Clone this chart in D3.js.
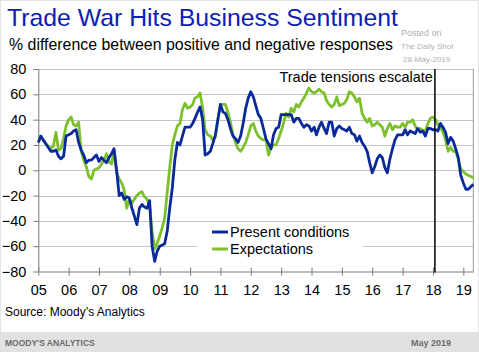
<!DOCTYPE html>
<html>
<head>
<meta charset="utf-8">
<script src="https://cdn.jsdelivr.net/npm/d3@7"></script>
<style>
  body { margin: 0; background: #fff; }
  svg { display: block; font-family: "Liberation Sans", Arial, sans-serif; }
  .grid line { stroke: #c4c4c4; stroke-width: 1; }
  .axis path, .axis line { stroke: #7a7a7a; }
  .axis text { fill: #000; font-size: 14.5px; }
</style>
</head>
<body>
<div id="chart"></div>
<script>
// monthly, Jan 2005 .. May 2019
var startYear = 2005;
var presentConditions = [
    22, 27, 24, 21, 18, 15, 15, 16, 11, 9, 11, 27,
    28, 29, 31, 32, 22, 16, 12, 6, 8, 8, 10, 12,
    7, 10, 8, 6, 10, 13, 17, 0, -20, -18, -23, -21,
    -22, -30, -36, -43, -30, -27, -29, -30, -24, -60, -72, -64,
    -60, -59, -58, -48, -30, -14, 8, 22, 20, 27, 34, 34,
    34, 37, 41, 46, 50, 40, 12, 13, 15, 21, 28, 40,
    52, 46, 45, 40, 33, 27, 25, 22, 27, 37, 49, 57,
    62, 58, 51, 44, 41, 33, 25, 21, 17, 28, 33, 34,
    44, 44, 44, 44, 44, 38, 41, 41, 37, 34, 36, 35,
    31, 34, 28, 34, 38, 33, 29, 38, 38, 27, 33, 35,
    33, 32, 31, 34, 29, 28, 23, 27, 22, 19, 15, 6,
    -2, 3, 9, 12, 10, 2, -2, 9, 17, 24, 28, 28,
    28, 32, 28, 31, 30, 29, 33, 30, 31, 27, 33, 33,
    32, 32, 31, 37, 34, 30, 21, 26, 23, 17, 10, -4,
    -10, -15, -15, -13, -11
];
var expectations = [
    27, 26, 24, 21, 19, 17, 19, 30, 16, 17, 25, 35,
    40, 42, 36, 35, 38, 15, 8, 3, -5, -7, 0, 1,
    2, 5, 8, 13, 7, 5, 15, -2, -7, -10, -16, -30,
    -23, -26, -23, -20, -18, -17, -21, -23, -28, -48, -62, -58,
    -52, -45, -38, -17, 2, 20, 28, 35, 37, 48, 53, 49,
    50, 52, 57, 58, 61, 49, 32, 28, 27, 24, 26, 40,
    52, 52, 52, 46, 38, 28, 22, 17, 15, 18, 22, 28,
    35, 37, 31, 27, 25, 24, 24, 12, 18, 20, 20, 25,
    31, 38, 45, 42, 49, 46, 52, 50, 54, 57, 61, 65,
    62, 61, 62, 64, 62, 61, 55, 52, 50, 52, 58, 51,
    52, 53, 56, 62, 61, 58, 54, 57, 45, 41, 38, 41,
    35, 36, 38, 36, 34, 27, 33, 37, 32, 35, 34, 34,
    37, 34, 38, 38, 40, 35, 32, 33, 31, 31, 37, 41,
    42, 40, 36, 34, 30, 24, 15, 18, 15, 15, 9, 1,
    -1, -3, -4, -5, -6
];
var yTicks = [-80, -60, -40, -20, 0, 20, 40, 60, 80];
var seriesNames = ['Present conditions', 'Expectations'];
var seriesColors = ['#0a2a9c', '#7cc12c'];
var eventDate = new Date(2018, 0, 24);
var eventLabel = 'Trade tensions escalate';

var width = 479, height = 352;
var plot = { left: 38.3, right: 473.3, top: 69, bottom: 271.5 };

var svg = d3.select('#chart').append('svg')
    .attr('width', width)
    .attr('height', height);

var x = d3.scaleTime()
    .domain([new Date(startYear, 0, 1), new Date(2019, 4, 1)])
    .range([plot.left, plot.right]);

var y = d3.scaleLinear()
    .domain([-80, 80])
    .range([plot.bottom, plot.top]);

// outer faint frame + footer band
svg.append('rect')
    .attr('x', 0.5).attr('y', 0.5)
    .attr('width', width - 1).attr('height', height - 1)
    .style('fill', 'none').style('stroke', '#e4e4e4');

svg.append('rect')
    .attr('x', 0).attr('y', 332)
    .attr('width', width).attr('height', 20)
    .style('fill', '#e1e1e1');

svg.append('text')
    .attr('x', 5).attr('y', 345.5)
    .style('font-size', '8.5px').style('font-weight', 'bold')
    .style('fill', '#6b6b6b')
    .text("MOODY'S ANALYTICS");

svg.append('text')
    .attr('x', 451).attr('y', 345.5)
    .style('text-anchor', 'end')
    .style('font-size', '9px').style('font-weight', 'bold')
    .style('fill', '#6b6b6b')
    .text('May 2019');

// titles
svg.append('text')
    .attr('x', 7).attr('y', 26)
    .style('font-size', '24.8px').style('fill', '#0a22b0')
    .text('Trade War Hits Business Sentiment');

svg.append('text')
    .attr('x', 9).attr('y', 50)
    .style('font-size', '15.9px').style('fill', '#000')
    .text('% difference between positive and negative responses');

svg.append('text')
    .attr('x', 401).attr('y', 36)
    .style('font-size', '9px').style('fill', '#b0b0b0')
    .text('Posted on');
svg.append('text')
    .attr('x', 401).attr('y', 48.5)
    .style('font-size', '8px').style('fill', '#b0b0b0')
    .text('The Daily Shot');
svg.append('text')
    .attr('x', 403).attr('y', 62)
    .style('font-size', '8px').style('fill', '#b0b0b0')
    .text('28-May-2019');

// gridlines
svg.append('g')
    .attr('class', 'grid')
    .selectAll('line')
    .data(yTicks.filter(d => d > -80))
    .enter()
    .append('line')
    .attr('x1', plot.left)
    .attr('x2', plot.right)
    .attr('y1', d => Math.round(y(d)) + 0.5)
    .attr('y2', d => Math.round(y(d)) + 0.5);

// right frame
svg.append('line')
    .attr('x1', plot.right).attr('x2', plot.right)
    .attr('y1', plot.top).attr('y2', plot.bottom)
    .style('stroke', '#9a9a9a');

// axes
var yAxis = d3.axisLeft(y)
    .tickValues(yTicks)
    .tickSize(5)
    .tickPadding(7);

svg.append('g')
    .attr('class', 'axis yAxis')
    .attr('transform', `translate(${plot.left}, 0)`)
    .call(yAxis)
    .call(g => g.select('.domain').attr('d', `M0.5,${plot.top}V${plot.bottom}`));

var xAxis = d3.axisBottom(x)
    .ticks(d3.timeYear.every(1))
    .tickFormat(d3.timeFormat('%y'))
    .tickSizeInner(4)
    .tickSizeOuter(0)
    .tickPadding(9);

svg.append('g')
    .attr('class', 'axis xAxis')
    .attr('transform', `translate(0, ${plot.bottom})`)
    .call(xAxis)
    .call(g => g.selectAll('.tick line').attr('y1', -4).attr('y2', 4));

// legend box covers gridline
svg.append('rect')
    .attr('x', 197).attr('y', 224)
    .attr('width', 166).attr('height', 34)
    .style('fill', '#fff');

// series lines
var series = [presentConditions, expectations];
var line = d3.line()
    .x((d, i) => x(new Date(startYear, i, 1)))
    .y(d => y(d));

svg.append('g')
    .selectAll('path.series')
    .data([series[1], series[0]])
    .enter()
    .append('path')
    .attr('class', 'series')
    .attr('d', line)
    .style('fill', 'none')
    .style('stroke', (d, i) => i === 0 ? seriesColors[1] : seriesColors[0])
    .style('stroke-width', 2.8)
    .style('stroke-linejoin', 'round');

// event marker
svg.append('line')
    .attr('x1', x(eventDate)).attr('x2', x(eventDate))
    .attr('y1', plot.top).attr('y2', plot.bottom + 1)
    .style('stroke', '#000')
    .style('stroke-width', 1.5);

svg.append('text')
    .attr('x', x(eventDate) - 2)
    .attr('y', 82)
    .style('text-anchor', 'end')
    .style('font-size', '14.5px')
    .text(eventLabel);

// legend
var legend = svg.selectAll('g.legend')
    .data(seriesNames)
    .enter()
    .append('g')
    .attr('class', 'legend')
    .attr('transform', (d, i) => `translate(212, ${232 + i * 17})`);

legend.append('line')
    .attr('x1', 0).attr('x2', 16)
    .style('stroke', (d, i) => seriesColors[i])
    .style('stroke-width', 3);

legend.append('text')
    .attr('x', 18).attr('y', 5)
    .style('font-size', '14.5px')
    .text(d => d);

// source
svg.append('text')
    .attr('x', 5).attr('y', 316)
    .style('font-size', '12px')
    .text("Source: Moody\u2019s Analytics");
</script>
</body>
</html>
